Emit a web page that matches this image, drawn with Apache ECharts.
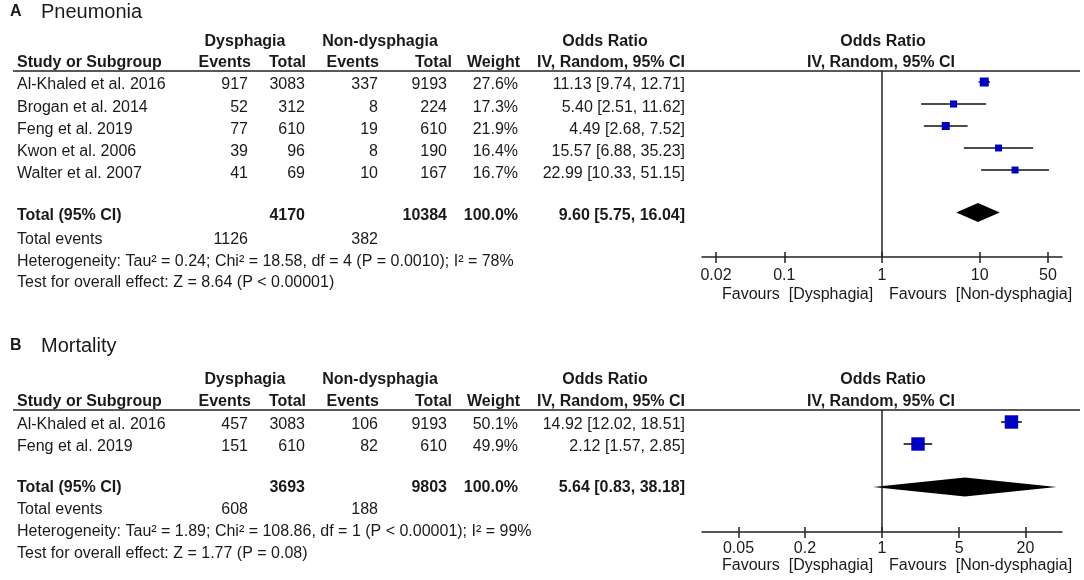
<!DOCTYPE html>
<html>
<head>
<meta charset="utf-8">
<title>Forest plots: dysphagia vs non-dysphagia</title>
<script src="https://cdn.jsdelivr.net/npm/echarts@6/dist/echarts.min.js"></script>
<style>
  html, body { margin: 0; padding: 0; background: #fff; }
  #chart { width: 1084px; height: 580px; }
</style>
</head>
<body>
<div id="chart"></div>
<script>
const FONT = '"Liberation Sans", Arial, sans-serif';
const INK = '#1a1a1a';

// ---- A: pneumonia ----
const studiesA = ['Al-Khaled et al. 2016', 'Brogan et al. 2014', 'Feng et al. 2019', 'Kwon et al. 2006', 'Walter et al. 2007'];
const eventsDysA = [917, 52, 77, 39, 41];
const totalDysA = [3083, 312, 610, 96, 69];
const eventsNonA = [337, 8, 19, 8, 10];
const totalNonA = [9193, 224, 610, 190, 167];
const weightA = [27.6, 17.3, 21.9, 16.4, 16.7];
const orA = [11.13, 5.40, 4.49, 15.57, 22.99];
const loA = [9.74, 2.51, 2.68, 6.88, 10.33];
const hiA = [12.71, 11.62, 7.52, 35.23, 51.15];
const pooledA = [9.60, 5.75, 16.04];
const sumTotalsA = [4170, 10384];
const sumEventsA = [1126, 382];
const hetA = 'Heterogeneity: Tau² = 0.24; Chi² = 18.58, df = 4 (P = 0.0010); I² = 78%';
const testA = 'Test for overall effect: Z = 8.64 (P < 0.00001)';
const ticksA = [0.02, 0.1, 1, 10, 50];

// ---- B: mortality ----
const studiesB = ['Al-Khaled et al. 2016', 'Feng et al. 2019'];
const eventsDysB = [457, 151];
const totalDysB = [3083, 610];
const eventsNonB = [106, 82];
const totalNonB = [9193, 610];
const weightB = [50.1, 49.9];
const orB = [14.92, 2.12];
const loB = [12.02, 1.57];
const hiB = [18.51, 2.85];
const pooledB = [5.64, 0.83, 38.18];
const sumTotalsB = [3693, 9803];
const sumEventsB = [608, 188];
const hetB = 'Heterogeneity: Tau² = 1.89; Chi² = 108.86, df = 1 (P < 0.00001); I² = 99%';
const testB = 'Test for overall effect: Z = 1.77 (P = 0.08)';
const ticksB = [0.05, 0.2, 1, 5, 20];

const panels = [
  {
    letter: 'A', title: 'Pneumonia',
    studies: studiesA, evD: eventsDysA, totD: totalDysA, evN: eventsNonA, totN: totalNonA,
    weight: weightA, or: orA, lo: loA, hi: hiA, pooled: pooledA,
    sumTot: sumTotalsA, sumEv: sumEventsA, het: hetA, test: testA, ticks: ticksA,
    // layout (pixels)
    titleY: 12, head1: 42, head2: 63, rule: 71, row0: 85, step: 22.2,
    totalY: 216, eventsY: 240, hetY: 262, testY: 283,
    axisY: 257, favY: 295, labelMargin: 11, plotRow0: 82, diamondRow: 5.93,
    span: 1.842, sq: 1.71
  },
  {
    letter: 'B', title: 'Mortality',
    studies: studiesB, evD: eventsDysB, totD: totalDysB, evN: eventsNonB, totN: totalNonB,
    weight: weightB, or: orB, lo: loB, hi: hiB, pooled: pooledB,
    sumTot: sumTotalsB, sumEv: sumEventsB, het: hetB, test: testB, ticks: ticksB,
    titleY: 346, head1: 380, head2: 402, rule: 410, row0: 425, step: 22,
    totalY: 488, eventsY: 510, hetY: 532, testY: 554,
    axisY: 532, favY: 566, labelMargin: 9, plotRow0: 422, diamondRow: 2.95,
    span: 1.632, sq: 1.9
  }
];

// column right edges of the table
const COL = { evD: 248, totD: 305, evN: 378, totN: 447, weight: 518, or: 685 };
const PLOT_LEFT = 702, PLOT_W = 360, ROW_PX = 22;

function txt(x, y, text, opts) {
  opts = opts || {};
  return {
    type: 'text', x: x, y: y, silent: true,
    style: {
      text: text,
      fontFamily: FONT,
      fontSize: opts.size || 16,
      fontWeight: opts.bold ? 'bold' : 'normal',
      fill: INK,
      align: opts.align || 'left',
      verticalAlign: 'middle'
    }
  };
}

function ciText(e, l, h) {
  return e.toFixed(2) + ' [' + l.toFixed(2) + ', ' + h.toFixed(2) + ']';
}

const graphic = [];
const grid = [], xAxis = [], yAxis = [], series = [];

panels.forEach(function (p, g) {
  // titles and headers
  graphic.push(txt(10, p.titleY, p.letter, { bold: true, size: 16 }));
  graphic.push(txt(41, p.titleY, p.title, { size: 20 }));
  graphic.push(txt(245, p.head1, 'Dysphagia', { bold: true, align: 'center' }));
  graphic.push(txt(380, p.head1, 'Non-dysphagia', { bold: true, align: 'center' }));
  graphic.push(txt(605, p.head1, 'Odds Ratio', { bold: true, align: 'center' }));
  graphic.push(txt(883, p.head1, 'Odds Ratio', { bold: true, align: 'center' }));
  graphic.push(txt(17, p.head2, 'Study or Subgroup', { bold: true }));
  graphic.push(txt(251, p.head2, 'Events', { bold: true, align: 'right' }));
  graphic.push(txt(306, p.head2, 'Total', { bold: true, align: 'right' }));
  graphic.push(txt(379, p.head2, 'Events', { bold: true, align: 'right' }));
  graphic.push(txt(452, p.head2, 'Total', { bold: true, align: 'right' }));
  graphic.push(txt(520, p.head2, 'Weight', { bold: true, align: 'right' }));
  graphic.push(txt(685, p.head2, 'IV, Random, 95% CI', { bold: true, align: 'right' }));
  graphic.push(txt(881, p.head2, 'IV, Random, 95% CI', { bold: true, align: 'center' }));
  graphic.push({
    type: 'line', silent: true,
    shape: { x1: 13, y1: p.rule, x2: 1080, y2: p.rule },
    style: { stroke: '#222', lineWidth: 1.5 }
  });

  // study rows
  p.studies.forEach(function (s, i) {
    const y = p.row0 + p.step * i;
    graphic.push(txt(17, y, s));
    graphic.push(txt(COL.evD, y, String(p.evD[i]), { align: 'right' }));
    graphic.push(txt(COL.totD, y, String(p.totD[i]), { align: 'right' }));
    graphic.push(txt(COL.evN, y, String(p.evN[i]), { align: 'right' }));
    graphic.push(txt(COL.totN, y, String(p.totN[i]), { align: 'right' }));
    graphic.push(txt(COL.weight, y, p.weight[i].toFixed(1) + '%', { align: 'right' }));
    graphic.push(txt(COL.or, y, ciText(p.or[i], p.lo[i], p.hi[i]), { align: 'right' }));
  });

  // totals and footer
  graphic.push(txt(17, p.totalY, 'Total (95% CI)', { bold: true }));
  graphic.push(txt(COL.totD, p.totalY, String(p.sumTot[0]), { bold: true, align: 'right' }));
  graphic.push(txt(COL.totN, p.totalY, String(p.sumTot[1]), { bold: true, align: 'right' }));
  graphic.push(txt(COL.weight, p.totalY, '100.0%', { bold: true, align: 'right' }));
  graphic.push(txt(COL.or, p.totalY, ciText(p.pooled[0], p.pooled[1], p.pooled[2]), { bold: true, align: 'right' }));
  graphic.push(txt(17, p.eventsY, 'Total events'));
  graphic.push(txt(COL.evD, p.eventsY, String(p.sumEv[0]), { align: 'right' }));
  graphic.push(txt(COL.evN, p.eventsY, String(p.sumEv[1]), { align: 'right' }));
  graphic.push(txt(17, p.hetY, p.het));
  graphic.push(txt(17, p.testY, p.test));
  graphic.push(txt(722, p.favY, 'Favours  [Dysphagia]'));
  graphic.push(txt(889, p.favY, 'Favours  [Non-dysphagia]'));

  // forest plot
  const tickLogs = p.ticks.map(function (t) { return Math.log10(t); });
  const fmt = function (v) {
    const i = tickLogs.findIndex(function (t) { return Math.abs(t - v) < 1e-6; });
    return i < 0 ? '' : String(p.ticks[i]);
  };

  grid.push({ left: PLOT_LEFT, width: PLOT_W, top: p.rule, height: p.axisY - p.rule });

  const axisBase = {
    type: 'value', gridIndex: g, min: -p.span, max: p.span, position: 'bottom',
    splitLine: { show: false }
  };
  xAxis.push(Object.assign({}, axisBase, {
    axisLine: { show: true, onZero: false, lineStyle: { color: '#222', width: 1.5 } },
    axisTick: { show: true, inside: false, length: 6, customValues: tickLogs, lineStyle: { color: '#222', width: 1.5 } },
    axisLabel: {
      show: true, customValues: tickLogs, margin: p.labelMargin, formatter: fmt,
      fontFamily: FONT, fontSize: 16, color: INK
    }
  }));
  xAxis.push(Object.assign({}, axisBase, {
    axisLine: { show: false, onZero: false },
    axisTick: { show: true, inside: true, length: 5, customValues: tickLogs, lineStyle: { color: '#222', width: 1.5 } },
    axisLabel: { show: false }
  }));
  yAxis.push({
    type: 'value', gridIndex: g, inverse: true, show: false,
    min: (p.rule - p.plotRow0) / ROW_PX,
    max: (p.axisY - p.plotRow0) / ROW_PX
  });

  const xi = g * 2;

  series.push({
    type: 'custom', name: 'ci' + g, xAxisIndex: xi, yAxisIndex: g, z: 2, silent: true,
    data: p.or.map(function (_, i) { return [Math.log10(p.lo[i]), Math.log10(p.hi[i]), i]; }),
    renderItem: function (params, api) {
      const a = api.coord([api.value(0), api.value(2)]);
      const b = api.coord([api.value(1), api.value(2)]);
      return {
        type: 'line',
        shape: { x1: a[0], y1: a[1], x2: b[0], y2: b[1] },
        style: { stroke: '#111', lineWidth: 1.6 }
      };
    }
  });

  series.push({
    type: 'scatter', name: 'or' + g, xAxisIndex: xi, yAxisIndex: g, z: 3, silent: true,
    symbol: 'rect',
    symbolSize: function (v) { return p.sq * Math.sqrt(v[2]); },
    itemStyle: { color: '#0000c4', opacity: 1 },
    data: p.or.map(function (e, i) { return [Math.log10(e), i, p.weight[i]]; }),
    markLine: {
      silent: true, symbol: 'none', animation: false,
      label: { show: false },
      lineStyle: { color: '#222', width: 1.5, type: 'solid' },
      data: [{ xAxis: 0 }]
    }
  });

  series.push({
    type: 'custom', name: 'pooled' + g, xAxisIndex: xi, yAxisIndex: g, z: 3, silent: true,
    data: [[Math.log10(p.pooled[1]), Math.log10(p.pooled[0]), Math.log10(p.pooled[2]), p.diamondRow]],
    renderItem: function (params, api) {
      const row = api.value(3);
      const l = api.coord([api.value(0), row]);
      const c = api.coord([api.value(1), row]);
      const r = api.coord([api.value(2), row]);
      const h = 9.5;
      return {
        type: 'polygon',
        shape: { points: [[l[0], l[1]], [c[0], c[1] - h], [r[0], r[1]], [c[0], c[1] + h]] },
        style: { fill: '#000' }
      };
    }
  });
});

const chart = echarts.init(document.getElementById('chart'), null, { renderer: 'canvas' });
chart.setOption({
  animation: false,
  backgroundColor: '#fff',
  grid: grid,
  xAxis: xAxis,
  yAxis: yAxis,
  series: series,
  graphic: graphic
});
</script>
</body>
</html>
